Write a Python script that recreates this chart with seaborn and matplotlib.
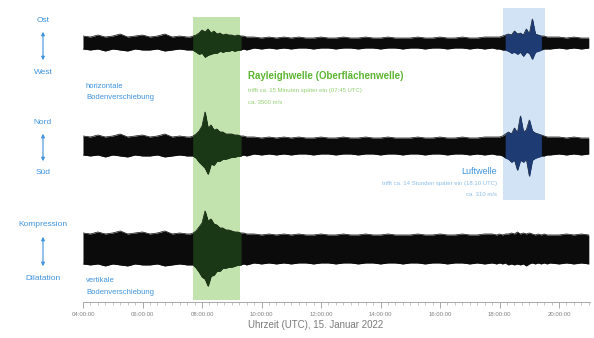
import numpy as np
import pandas as pd
import matplotlib
matplotlib.use("Agg")
import matplotlib.pyplot as plt
from matplotlib.ticker import MultipleLocator
import seaborn as sns

# ---------------------------------------------------------------------------
# Sampling times (hours UTC); denser around the two wave arrivals
time_h = np.round(np.concatenate([
    np.arange(4.00, 7.51, 0.25),
    np.arange(7.60, 9.51, 0.10),
    np.arange(9.75, 17.76, 0.25),
    np.arange(17.90, 19.71, 0.10),
    np.arange(20.00, 21.01, 0.25),
]), 2)

# Envelope of the ground motion (relative amplitude), above / below the zero line
ew_upper = [7, 6, 8, 6, 7, 9, 6, 7, 8, 6, 7, 9, 6, 7, 6,
            6, 7, 8, 10, 13, 11, 14, 10, 12, 9, 10, 8, 9, 8, 8, 7, 8, 7, 7, 6,
            6, 5, 6, 5, 6, 5, 6, 5, 5, 6, 5, 5, 6, 5, 5, 6, 5, 5, 6, 5, 5, 5, 6, 5, 5, 6, 5, 5, 6, 5, 5, 6, 6,
            6, 6, 7, 8, 9, 8, 12, 9, 10, 8, 14, 9, 24, 9, 8, 7, 7, 6, 6,
            6, 5, 6, 5, 5]
ew_lower = [6, 7, 6, 8, 6, 7, 8, 6, 7, 7, 6, 8, 7, 6, 7,
            7, 7, 9, 11, 10, 14, 12, 11, 10, 10, 8, 9, 8, 8, 7, 8, 7, 7, 6, 7,
            5, 6, 5, 6, 5, 6, 5, 5, 6, 5, 5, 6, 5, 5, 6, 5, 5, 6, 5, 5, 6, 5, 5, 6, 5, 5, 6, 5, 5, 6, 5, 6, 5,
            6, 6, 7, 7, 8, 10, 9, 11, 9, 13, 9, 10, 16, 9, 8, 7, 6, 6, 6,
            5, 6, 5, 6, 5]

ns_upper = [10, 9, 11, 9, 10, 12, 9, 10, 11, 9, 10, 12, 9, 10, 9,
            9, 10, 12, 15, 20, 34, 18, 21, 16, 17, 14, 14, 12, 12, 12, 11, 11, 10, 10, 9,
            9, 8, 9, 8, 9, 8, 9, 8, 8, 9, 8, 8, 9, 8, 8, 9, 8, 8, 9, 8, 8, 8, 9, 8, 8, 9, 8, 8, 9, 8, 8, 9, 9,
            9, 9, 10, 12, 14, 12, 18, 13, 30, 14, 16, 26, 15, 13, 12, 11, 10, 9, 9,
            9, 8, 9, 8, 8]
ns_lower = [9, 10, 9, 11, 9, 10, 11, 9, 10, 10, 9, 11, 10, 9, 10,
            10, 10, 12, 16, 19, 22, 28, 18, 19, 15, 15, 13, 13, 12, 11, 11, 10, 10, 9, 10,
            8, 9, 8, 9, 8, 9, 8, 8, 9, 8, 8, 9, 8, 8, 9, 8, 8, 9, 8, 8, 9, 8, 8, 9, 8, 8, 9, 8, 8, 9, 8, 9, 8,
            9, 9, 10, 12, 13, 16, 14, 24, 14, 16, 13, 30, 14, 12, 11, 10, 10, 9, 9,
            8, 9, 8, 9, 8]

z_upper = [16, 15, 17, 15, 16, 18, 15, 16, 17, 15, 16, 18, 15, 16, 15,
           15, 16, 18, 22, 26, 38, 28, 30, 25, 24, 21, 21, 19, 19, 18, 17, 17, 16, 16, 15,
           15, 14, 15, 14, 15, 14, 15, 14, 14, 15, 14, 14, 15, 14, 14, 15, 14, 14, 15, 14, 14, 14, 15, 14, 14, 15, 14, 14, 15, 14, 14, 15, 15,
           14, 15, 14, 15, 15, 16, 15, 17, 15, 16, 15, 16, 15, 14, 15, 14, 15, 14, 14,
           14, 15, 14, 15, 14]
z_lower = [15, 16, 15, 17, 15, 16, 17, 15, 16, 16, 15, 17, 16, 15, 16,
           16, 16, 19, 23, 28, 30, 37, 27, 26, 22, 22, 19, 19, 18, 18, 17, 16, 16, 15, 16,
           14, 15, 14, 15, 14, 15, 14, 14, 15, 14, 14, 15, 14, 14, 15, 14, 14, 15, 14, 14, 15, 14, 14, 15, 14, 14, 15, 14, 14, 15, 14, 15, 14,
           15, 14, 15, 14, 16, 15, 16, 15, 16, 15, 17, 15, 14, 15, 14, 15, 14, 15, 14,
           15, 14, 15, 14, 15]

components = ["Ost-West", "Nord-Süd", "Vertikal"]

# Time windows of the two wave arrivals (hours UTC)
rayleigh_window = (7.70, 9.28)
air_window = (18.12, 19.53)

tick_hours = [4, 6, 8, 10, 12, 14, 16, 18, 20]
tick_labels = ["04:00:00", "06:00:00", "08:00:00", "10:00:00", "12:00:00",
               "14:00:00", "16:00:00", "18:00:00", "20:00:00"]

# ---------------------------------------------------------------------------
df = pd.concat([
    pd.DataFrame({"time": time_h, "component": name, "upper": up, "lower": lo})
    for name, up, lo in zip(components,
                            [ew_upper, ns_upper, z_upper],
                            [ew_lower, ns_lower, z_lower])
], ignore_index=True)

sns.set_theme(style="white")
plt.rcParams["font.family"] = ["Liberation Sans", "DejaVu Sans"]

W, H = 594, 338
fig = plt.figure(figsize=(W / 100, H / 100), dpi=100)
ax = fig.add_axes([83 / W, 36 / H, 507 / W, 294 / H])

gain = 1 / 103.0
offsets = {"Ost-West": 2.0, "Nord-Süd": 1.0, "Vertikal": 0.0}

green_band = "#c2e3ad"
blue_band = "#d2e3f5"
ax.axvspan(*rayleigh_window, ymin=0.007, ymax=0.969, color=green_band, lw=0, zorder=0)
ax.axvspan(*air_window, ymin=0.347, ymax=1.0, color=blue_band, lw=0, zorder=0)

trace_color = "#0b0b0b"
for name in components:
    sub = df[df["component"] == name]
    off = offsets[name]
    hi = off + sub["upper"].to_numpy() * gain
    lo = off - sub["lower"].to_numpy() * gain
    t = sub["time"].to_numpy()
    ax.fill_between(t, lo, hi, color=trace_color, lw=0, zorder=2)
    sns.lineplot(x=t, y=hi, ax=ax, color=trace_color, lw=0.5, zorder=3)
    sns.lineplot(x=t, y=lo, ax=ax, color=trace_color, lw=0.5, zorder=3)
    in_green = (t >= rayleigh_window[0] - 0.05) & (t <= rayleigh_window[1] + 0.05)
    ax.fill_between(t, lo, hi, where=in_green, color="#1b3816", lw=0.5,
                    edgecolor="#1b3816", zorder=4)
    if name != "Vertikal":
        in_blue = (t >= air_window[0]) & (t <= air_window[1] - 0.05)
        ax.fill_between(t, lo, hi, where=in_blue, color="#1e3b74", lw=0.5,
                        edgecolor="#1e3b74", zorder=4)

ax.set_xlim(4.0, 21.04)
ax.set_ylim(-0.515, 2.34)
ax.set_yticks([])
ax.set_ylabel("")
ax.set_xticks(tick_hours)
ax.set_xticklabels(tick_labels)
ax.xaxis.set_minor_locator(MultipleLocator(0.25))
ax.tick_params(axis="x", which="major", length=4, width=0.6, color="#9a9a9a",
               labelsize=4.3, labelcolor="#808080", pad=3, bottom=True)
ax.tick_params(axis="x", which="minor", length=2, width=0.5, color="#b0b0b0", bottom=True)
for s in ["left", "top", "right"]:
    ax.spines[s].set_visible(False)
ax.spines["bottom"].set_color("#a8a8a8")
ax.spines["bottom"].set_linewidth(0.7)
ax.set_facecolor("none")

def fx(px):
    return px / W

def fy(py):
    return 1 - py / H

blue = "#3f93dc"
blue_light = "#8dbde8"
green = "#5cb531"
green_light = "#93cf72"

fig.text(fx(316), fy(325), "Uhrzeit (UTC), 15. Januar 2022", ha="center", va="center",
         fontsize=7, color="#7a7a7a")

# Direction labels with double arrows
for top, bottom, y_top, y_bot in [("Ost", "West", 20, 72),
                                  ("Nord", "Süd", 122, 173),
                                  ("Kompression", "Dilatation", 225, 278)]:
    fig.text(fx(43), fy(y_top), top, ha="center", va="center", fontsize=6, color=blue)
    fig.text(fx(43), fy(y_bot), bottom, ha="center", va="center", fontsize=6, color=blue)
    fig.add_artist(matplotlib.patches.FancyArrowPatch(
        (fx(43), fy(y_top + 9)), (fx(43), fy(y_bot - 9)),
        transform=fig.transFigure, arrowstyle="<|-|>", mutation_scale=5,
        color=blue, lw=0.8))

fig.text(fx(86), fy(87), "horizontale", ha="left", va="center", fontsize=5.5, color=blue)
fig.text(fx(86), fy(98), "Bodenverschiebung", ha="left", va="center", fontsize=5.5, color=blue)
fig.text(fx(86), fy(280), "vertikale", ha="left", va="center", fontsize=5.5, color=blue)
fig.text(fx(86), fy(292), "Bodenverschiebung", ha="left", va="center", fontsize=5.5, color=blue)

fig.text(fx(248), fy(76), "Rayleighwelle (Oberflächenwelle)", ha="left", va="center",
         fontsize=7, fontweight="bold", color=green)
fig.text(fx(248), fy(91), "trifft ca. 15 Minuten später ein (07:45 UTC)", ha="left",
         va="center", fontsize=4.3, color=green_light)
fig.text(fx(248), fy(102), "ca. 3500 m/s", ha="left", va="center", fontsize=4.3,
         color=green_light)

fig.text(fx(497), fy(171), "Luftwelle", ha="right", va="center", fontsize=6.5, color=blue)
fig.text(fx(497), fy(183), "trifft ca. 14 Stunden später ein (18:10 UTC)", ha="right",
         va="center", fontsize=4.3, color=blue_light)
fig.text(fx(497), fy(194), "ca. 310 m/s", ha="right", va="center", fontsize=4.3,
         color=blue_light)

fig.savefig("out.png", dpi=100, facecolor="white")
